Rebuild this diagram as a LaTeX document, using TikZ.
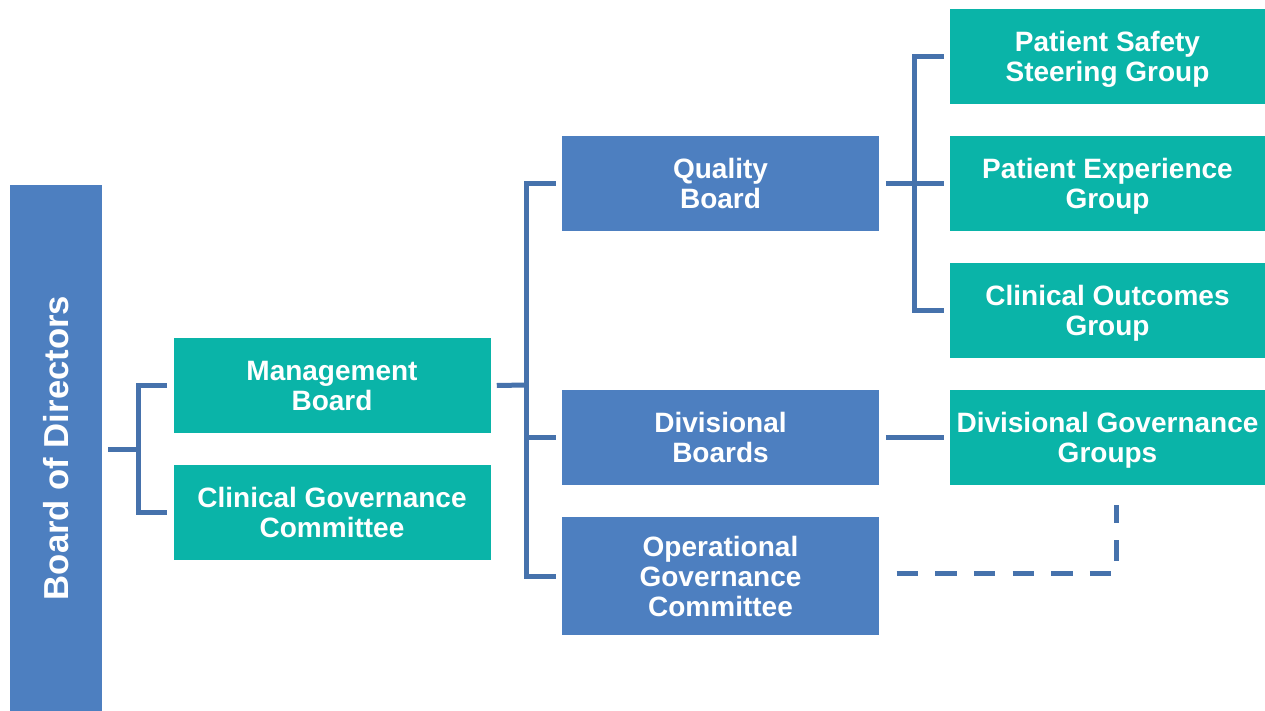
\documentclass[tikz,border=0pt]{standalone}
\usepackage{fontspec}
\usepackage{graphicx}
\setmainfont{Liberation Sans}
\definecolor{boxblue}{HTML}{4D7FC0}
\definecolor{boxteal}{HTML}{0AB4A8}
\definecolor{linkblue}{HTML}{4672AC}
\begin{document}
\begin{tikzpicture}[x = 0.75pt, y = -0.75pt,
    box/.style = {inner sep = 0pt, align = center, text = white,
      font = \bfseries\fontsize{21}{22.5}\selectfont, text depth = 0pt,
      minimum width = 237.75pt, minimum height = 71.25pt},
    bluebox/.style = {box, fill = boxblue},
    tealbox/.style = {box, fill = boxteal},
    link/.style = {draw = linkblue, line width = 3.75pt},
    dashlink/.style = {link, dash pattern = on 16pt off 13pt}]
  \useasboundingbox (0, 0) rectangle (1265, 711);

  \node[bluebox, minimum width = 69pt, minimum height = 394.5pt,
    font = \bfseries\fontsize{26}{28}\selectfont] (board) at (56, 448)
    {\rotatebox{90}{Board of Directors}};

  \node[tealbox] (mgmt) at (332, 385.5) {Management\\Board};
  \node[tealbox] (cgc) at (332, 512.5) {Clinical Governance\\Committee};

  \node[bluebox] (quality) at (720.5, 183.5) {Quality\\Board};
  \node[bluebox] (div) at (720.5, 437.5) {Divisional\\Boards};
  \node[bluebox, minimum height = 88.5pt] (ogc) at (720.5, 576)
    {Operational\\Governance\\Committee};

  \foreach \name/\y/\txt in {pssg/56.5/{Patient Safety\\Steering Group},
      peg/183.5/{Patient Experience\\Group},
      cog/310.5/{Clinical Outcomes\\Group},
      dgg/437.5/{Divisional Governance\\Groups}}
    \node[tealbox, minimum width = 236.25pt] (\name) at (1107.5, \y) {\txt};

  % buses
  \coordinate (busA) at (138, 449);
  \coordinate (busB) at (526, 385);
  \coordinate (busC) at (914, 183);

  \draw[link] ([xshift = 4.5pt]board.east |- busA) -- (busA);
  \draw[link] ([xshift = -4.5pt]mgmt.west) -| (busA) |- ([xshift = -4.5pt]cgc.west);

  \draw[link] ([xshift = 4.5pt]mgmt.east) -- (busB);
  \draw[link] ([xshift = -4.5pt]quality.west) -| (busB) |- ([xshift = -4.5pt]ogc.west);
  \draw[link] (busB |- div.west) -- ([xshift = -4.5pt]div.west);

  \draw[link] ([xshift = 5pt]quality.east) -- ([xshift = -4.5pt]peg.west);
  \draw[link] ([xshift = -4.5pt]pssg.west) -| (busC) |- ([xshift = -4.5pt]cog.west);

  \draw[link] ([xshift = 5pt]div.east) -- ([xshift = -4.5pt]dgg.west);
  \draw[dashlink] ([xshift = 13pt, yshift = 2.25pt]ogc.east)
    -| ([xshift = 7pt, yshift = -15pt]dgg.south);
\end{tikzpicture}
\end{document}
